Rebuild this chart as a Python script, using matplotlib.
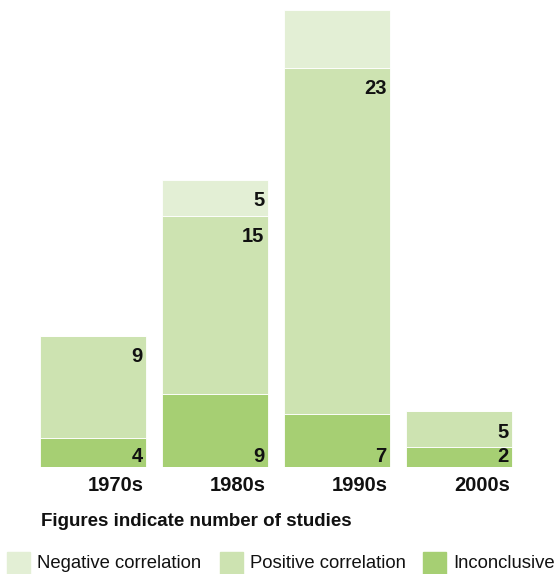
import matplotlib
matplotlib.use("Agg")
import matplotlib.pyplot as plt
from matplotlib.patches import Rectangle
import numpy as np

plt.rcParams['font.family'] = ['Liberation Sans', 'DejaVu Sans']

decades = ['1970s', '1980s', '1990s', '2000s']

# number of studies printed on the bars (None = no label shown)
inconclusive_n = [4, 9, 7, 2]
positive_n = [9, 15, 23, 5]
negative_n = [None, 5, None, None]

# segment heights as drawn in the original (it is not to scale)
inconclusive_h = [2.9, 7.3, 5.3, 2.0]
positive_h = [10.2, 17.8, 34.6, 3.6]
negative_h = [0.0, 3.6, 5.8, 0.0]

series = ['Negative correlation', 'Positive correlation', 'Inconclusive']
col_neg = '#e3efd5'
col_pos = '#cde3b1'
col_inc = '#a6cf73'

W, H = 557, 574
fig = plt.figure(figsize=(W / 100, H / 100), dpi=100)
ax = fig.add_axes([0, 107 / H, 1, 467 / H])

x = np.arange(len(decades))
bw = 0.87
inc = np.array(inconclusive_h)
pos = np.array(positive_h)
neg = np.array(negative_h)

ax.bar(x, inc, bw, color=col_inc, edgecolor='white', linewidth=0.6)
ax.bar(x, pos, bw, bottom=inc, color=col_pos, edgecolor='white', linewidth=0.6)
ax.bar(x, neg, bw, bottom=inc + pos, color=col_neg, edgecolor='white', linewidth=0.6)

ax.set_xlim(-93 / 122, (W - 93) / 122)
ax.set_ylim(0, 46.7)
ax.axis('off')

lab = dict(fontsize=14.5, fontweight='bold', color='#111111', ha='right')
for i in x:
    right = i + bw / 2 - 0.03
    # inconclusive: number sits at the bottom of the segment
    ax.text(right, 0.15, str(inconclusive_n[i]), va='bottom', **lab)
    # positive / negative: number sits at the top of the segment
    ax.text(right, inc[i] + pos[i] - 1.15, str(positive_n[i]), va='top', **lab)
    if negative_n[i] is not None:
        ax.text(right, inc[i] + pos[i] + neg[i] - 1.15, str(negative_n[i]),
                va='top', **lab)
    ax.text(i + bw / 2 - 0.02, -0.9, decades[i], va='top', **lab)

fig.text(41 / W, 1 - 521 / H, 'Figures indicate number of studies',
         fontsize=13.5, fontweight='bold', va='center', ha='left', color='#111111')

# legend drawn by hand along the bottom edge
leg_x = [7, 220, 423]
for lx, name, c in zip(leg_x, series, [col_neg, col_pos, col_inc]):
    fig.patches.append(Rectangle((lx / W, 0), 23 / W, 22 / H,
                                 transform=fig.transFigure, color=c))
    fig.text((lx + 30) / W, 1 - 563 / H, name, fontsize=13.3,
             va='center', ha='left', color='#111111')

fig.savefig('out.png', dpi=100)
